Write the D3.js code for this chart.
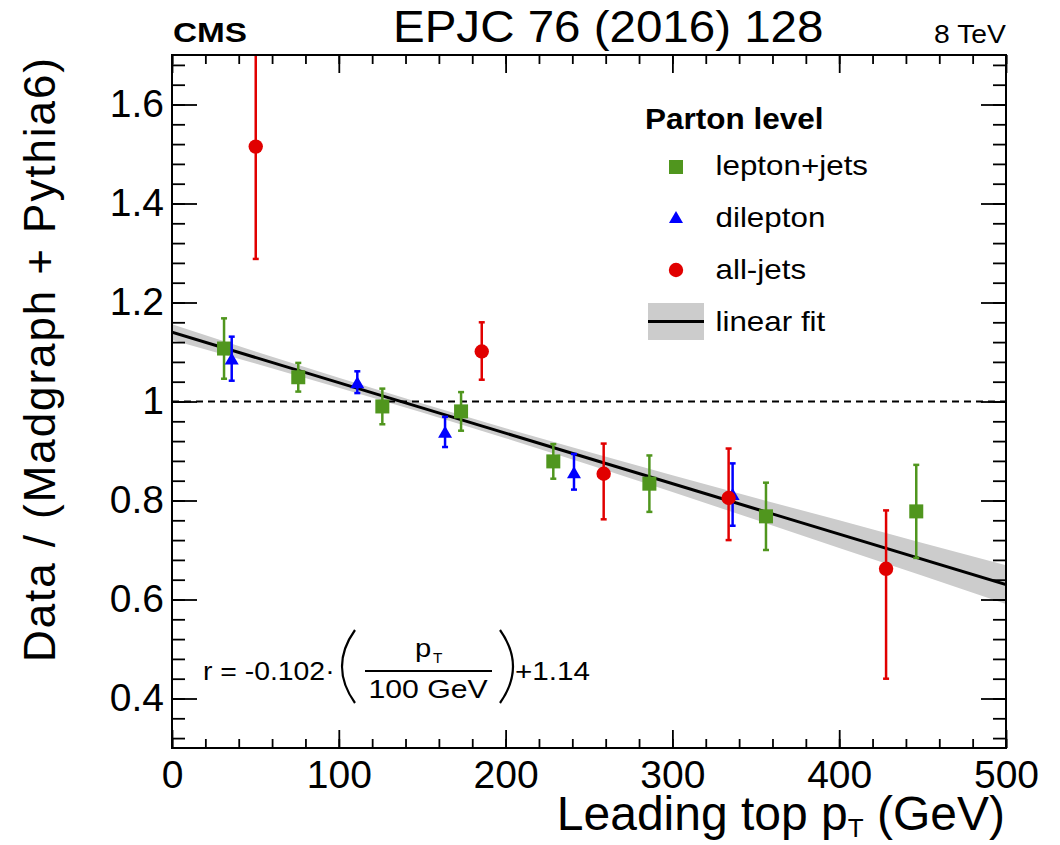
<!DOCTYPE html>
<html>
<head>
<meta charset="utf-8">
<script src="https://cdn.jsdelivr.net/npm/d3@7"></script>
<style>
    body { margin: 0; background: #fff; }
    text { font-family: "Liberation Sans", Arial, Helvetica, sans-serif; fill: #000; }
</style>
</head>
<body>
<div id="chart"></div>
<script>
// lepton+jets (green squares)
const ljPt = [31.2, 75.7, 126.1, 173.3, 228.6, 286.2, 356.1, 446.2];
const ljRatio = [1.107, 1.049, 0.990, 0.980, 0.879, 0.834, 0.768, 0.778];
const ljErr = [0.061, 0.029, 0.036, 0.039, 0.035, 0.057, 0.068, 0.094];

// dilepton (blue triangles)
const dlPt = [35.8, 111.1, 163.7, 241.0, 336.1];
const dlRatio = [1.084, 1.036, 0.936, 0.854, 0.810];
const dlErrUp = [0.047, 0.025, 0.033, 0.040, 0.065];
const dlErrDown = [0.042, 0.019, 0.028, 0.032, 0.061];

// all-jets (red circles)
const ajPt = [50.2, 185.7, 258.8, 333.7, 428.1];
const ajRatio = [1.515, 1.101, 0.854, 0.805, 0.662];
const ajErrUp = [0.25, 0.059, 0.061, 0.100, 0.118];
const ajErrDown = [0.227, 0.057, 0.092, 0.085, 0.222];

// linear fit r = -0.102*(pT/100) + 1.14 and its uncertainty band
const fitPt = [0, 500];
const fitRatio = [1.14, 0.63];
const bandPt = [0, 50, 100, 150, 200, 250, 300, 350, 400, 450, 500];
const bandCentre = [1.140, 1.089, 1.038, 0.987, 0.936, 0.885, 0.834, 0.783, 0.732, 0.681, 0.630];
const bandHalfWidth = [0.016, 0.012, 0.010, 0.009, 0.010, 0.013, 0.017, 0.022, 0.028, 0.033, 0.039];

const xTicks = [0, 100, 200, 300, 400, 500];
const yTicks = [0.4, 0.6, 0.8, 1.0, 1.2, 1.4, 1.6];
const yTickLabels = ["0.4", "0.6", "0.8", "1", "1.2", "1.4", "1.6"];
const legendLabels = ["lepton+jets", "dilepton", "all-jets", "linear fit"];

const green = "#50961e", blue = "#0000ff", red = "#e10000";

const W = 1060, H = 845;
const frame = {left: 172, right: 1006, top: 55, bottom: 748};

const svg = d3.select("#chart").append("svg")
    .attr("width", W)
    .attr("height", H);

const x = d3.scaleLinear().domain([0, 500]).range([frame.left, frame.right]);
const y = d3.scaleLinear().domain([0.3, 1.7]).range([frame.bottom, frame.top]);

svg.append("clipPath").attr("id", "plotclip")
    .append("rect")
    .attr("x", frame.left).attr("y", frame.top)
    .attr("width", frame.right - frame.left)
    .attr("height", frame.bottom - frame.top);

const plot = svg.append("g").attr("clip-path", "url(#plotclip)");

// fit band
const band = bandPt.map((p, i) => ({p: p, lo: bandCentre[i] - bandHalfWidth[i], hi: bandCentre[i] + bandHalfWidth[i]}));
plot.append("path")
    .datum(band)
    .attr("fill", "#cccccc")
    .attr("d", d3.area().x(d => x(d.p)).y0(d => y(d.lo)).y1(d => y(d.hi)));

// reference line at 1
plot.append("line")
    .attr("x1", frame.left).attr("x2", frame.right)
    .attr("y1", y(1)).attr("y2", y(1))
    .attr("stroke", "#000").attr("stroke-width", 2.2)
    .attr("stroke-dasharray", "7,5");

// fit line
plot.append("path")
    .datum(fitPt.map((p, i) => [p, fitRatio[i]]))
    .attr("fill", "none").attr("stroke", "#000").attr("stroke-width", 3)
    .attr("d", d3.line().x(d => x(d[0])).y(d => y(d[1])));

function errorBars(data, colour) {
    const g = plot.append("g").attr("stroke", colour).attr("stroke-width", 2.5);
    g.selectAll("line.bar").data(data).join("line").attr("class", "bar")
        .attr("x1", d => x(d.pt)).attr("x2", d => x(d.pt))
        .attr("y1", d => y(d.r + d.up)).attr("y2", d => y(d.r - d.down));
    g.selectAll("line.capU").data(data).join("line").attr("class", "capU")
        .attr("x1", d => x(d.pt) - 3).attr("x2", d => x(d.pt) + 3)
        .attr("y1", d => y(d.r + d.up)).attr("y2", d => y(d.r + d.up));
    g.selectAll("line.capD").data(data).join("line").attr("class", "capD")
        .attr("x1", d => x(d.pt) - 3).attr("x2", d => x(d.pt) + 3)
        .attr("y1", d => y(d.r - d.down)).attr("y2", d => y(d.r - d.down));
}

const ljData = ljPt.map((p, i) => ({pt: p, r: ljRatio[i], up: ljErr[i], down: ljErr[i]}));
const dlData = dlPt.map((p, i) => ({pt: p, r: dlRatio[i], up: dlErrUp[i], down: dlErrDown[i]}));
const ajData = ajPt.map((p, i) => ({pt: p, r: ajRatio[i], up: ajErrUp[i], down: ajErrDown[i]}));

const triangle = "M0,-7.5L7,4.5L-7,4.5Z";

errorBars(ljData, green);
plot.append("g").selectAll("rect").data(ljData).join("rect")
    .attr("x", d => x(d.pt) - 7).attr("y", d => y(d.r) - 7)
    .attr("width", 14).attr("height", 14)
    .attr("fill", green);

errorBars(dlData, blue);
plot.append("g").selectAll("path").data(dlData).join("path")
    .attr("transform", d => `translate(${x(d.pt)},${y(d.r)})`)
    .attr("d", triangle)
    .attr("fill", blue);

errorBars(ajData, red);
plot.append("g").selectAll("circle").data(ajData).join("circle")
    .attr("cx", d => x(d.pt)).attr("cy", d => y(d.r))
    .attr("r", 7.2)
    .attr("fill", red);

// axes, ticks pointing inward on all four sides
function styleAxis(g) {
    g.select(".domain").remove();
    g.selectAll("line").attr("stroke", "#000").attr("stroke-width", 1.8);
    g.attr("font-family", null).attr("font-size", null);
}

svg.append("g").attr("transform", `translate(0,${frame.bottom})`)
    .call(d3.axisBottom(x).tickValues(d3.range(0, 501, 20)).tickSize(-9).tickFormat(""))
    .call(styleAxis);
svg.append("g").attr("transform", `translate(0,${frame.bottom})`)
    .call(d3.axisBottom(x).tickValues(xTicks).tickSize(-18).tickPadding(12).tickFormat(d3.format("d")))
    .call(styleAxis)
    .selectAll("text").attr("font-size", 39);

svg.append("g").attr("transform", `translate(0,${frame.top})`)
    .call(d3.axisTop(x).tickValues(d3.range(0, 501, 20)).tickSize(-9).tickFormat(""))
    .call(styleAxis);
svg.append("g").attr("transform", `translate(0,${frame.top})`)
    .call(d3.axisTop(x).tickValues(xTicks).tickSize(-18).tickFormat(""))
    .call(styleAxis);

const yMinor = d3.range(8, 43).map(i => i * 0.04);
svg.append("g").attr("transform", `translate(${frame.left},0)`)
    .call(d3.axisLeft(y).tickValues(yMinor).tickSize(-13).tickFormat(""))
    .call(styleAxis);
svg.append("g").attr("transform", `translate(${frame.left},0)`)
    .call(d3.axisLeft(y).tickValues(yTicks).tickSize(-25).tickPadding(8).tickFormat((d, i) => yTickLabels[i]))
    .call(styleAxis)
    .selectAll("text").attr("font-size", 39);

svg.append("g").attr("transform", `translate(${frame.right},0)`)
    .call(d3.axisRight(y).tickValues(yMinor).tickSize(-13).tickFormat(""))
    .call(styleAxis);
svg.append("g").attr("transform", `translate(${frame.right},0)`)
    .call(d3.axisRight(y).tickValues(yTicks).tickSize(-25).tickFormat(""))
    .call(styleAxis);

// frame
svg.append("rect")
    .attr("x", frame.left).attr("y", frame.top)
    .attr("width", frame.right - frame.left).attr("height", frame.bottom - frame.top)
    .attr("fill", "none").attr("stroke", "#000").attr("stroke-width", 2);

function label(x0, y0, str, size, opts) {
    opts = opts || {};
    return svg.append("text")
        .attr("transform", `translate(${x0},${y0}) scale(${opts.sx || 1},1)`)
        .attr("font-size", size)
        .attr("font-weight", opts.bold ? "bold" : "normal")
        .attr("text-anchor", opts.anchor || "start")
        .text(str);
}

// header
label(173, 42, "CMS", 28, {bold: true, sx: 1.19});
label(393, 41.7, "EPJC 76 (2016) 128", 44, {sx: 1.08});
label(1006, 43.3, "8 TeV", 26, {anchor: "end", sx: 1.09});

// axis titles
svg.append("text")
    .attr("transform", "rotate(-90)")
    .attr("x", -662).attr("y", 55)
    .attr("font-size", 44)
    .attr("textLength", 604)
    .attr("lengthAdjust", "spacing")
    .text("Data / (Madgraph + Pythia6)");

const xTitle = svg.append("text")
    .attr("x", 1005).attr("y", 830)
    .attr("font-size", 48)
    .attr("text-anchor", "end");
xTitle.append("tspan").text("Leading top p");
xTitle.append("tspan").attr("font-size", 26).attr("dy", 7).text("T");
xTitle.append("tspan").attr("dy", -7).text(" (GeV)");

// legend
label(645, 128.5, "Parton level", 30, {bold: true, sx: 1.05});
const legendY = [175.4, 227, 278.6, 331];
const markerY = [167, 218.5, 270, 321.5];
legendLabels.forEach((t, i) => label(715.5, legendY[i], t, 28, {sx: 1.12}));
svg.append("rect").attr("x", 669).attr("y", markerY[0] - 7).attr("width", 14).attr("height", 14).attr("fill", green);
svg.append("path").attr("transform", `translate(676,${markerY[1]})`).attr("d", triangle).attr("fill", blue);
svg.append("circle").attr("cx", 676).attr("cy", markerY[2]).attr("r", 7.2).attr("fill", red);
svg.append("rect").attr("x", 648).attr("y", 303).attr("width", 56).attr("height", 37).attr("fill", "#cccccc");
svg.append("line").attr("x1", 648).attr("x2", 704).attr("y1", markerY[3]).attr("y2", markerY[3])
    .attr("stroke", "#000").attr("stroke-width", 3);

// fit formula
label(203, 680, "r = -0.102\u00b7", 26.5, {sx: 1.07});
svg.append("path").attr("d", "M355,630 Q329,666.5 355,703")
    .attr("fill", "none").attr("stroke", "#000").attr("stroke-width", 2.2);
label(415, 657, "p", 26.5, {sx: 1.1});
label(433, 663, "T", 14, {sx: 1.1});
svg.append("line").attr("x1", 365).attr("x2", 492).attr("y1", 671).attr("y2", 671)
    .attr("stroke", "#000").attr("stroke-width", 2);
label(428, 698, "100 GeV", 26.5, {anchor: "middle", sx: 1.14});
svg.append("path").attr("d", "M500,630 Q526,666.5 500,703")
    .attr("fill", "none").attr("stroke", "#000").attr("stroke-width", 2.2);
label(515, 680, "+1.14", 26.5, {sx: 1.12});
</script>
</body>
</html>
